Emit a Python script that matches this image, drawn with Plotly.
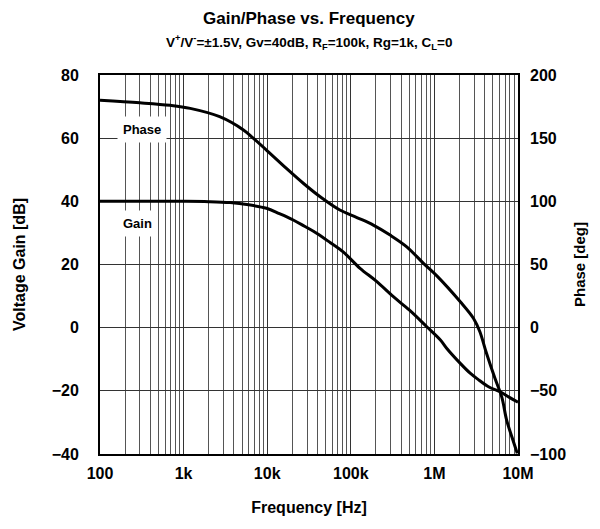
import plotly.graph_objects as go

# ---- data ----
freq_gain = [100, 300, 1000, 2000, 3600, 6000, 9800, 14000, 20500, 28000, 39000, 57000,
             81000, 129000, 200000, 323000, 500000, 810000, 1180000, 1400000, 2040000,
             2700000, 3300000, 4500000, 6100000, 7800000, 10000000]
gain_db = [40, 40, 40, 39.9, 39.6, 38.9, 37.8, 36.1, 34.1, 32.1, 29.9, 26.9,
           24.0, 18.8, 14.8, 9.8, 5.6, 0.3, -3.9, -6.5, -11.3,
           -14.5, -16.3, -18.8, -20.3, -22.0, -23.6]

freq_phase = [100, 300, 690, 1200, 2700, 5200, 6800, 10800, 17000, 27000, 43000,
              74000, 120000, 186000, 295000, 467000, 740000, 1070000, 2040000,
              2940000, 3500000, 4200000, 5300000, 6400000, 7300000, 8500000, 9800000]
phase_deg = [180, 178, 176, 173.6, 167, 156.5, 150, 138, 126, 114.3, 103.6,
             93.1, 87, 81.2, 73.3, 64, 50.9, 41, 20.5,
             7.3, -3.2, -20.3, -40.1, -55, -73, -87, -99.5]

x_tickvals = [100, 1e3, 1e4, 1e5, 1e6, 1e7]
x_ticktext = ["100", "1k", "10k", "100k", "1M", "10M"]

FONT = "Liberation Sans, Arial, sans-serif"
GRID = "#333333"

fig = go.Figure()
fig.add_trace(go.Scatter(x=freq_gain, y=gain_db, mode="lines", name="Gain",
                         line=dict(color="black", width=3, shape="spline", smoothing=1.0),
                         showlegend=False))
fig.add_trace(go.Scatter(x=freq_phase, y=phase_deg, mode="lines", name="Phase",
                         yaxis="y2",
                         line=dict(color="black", width=3, shape="spline", smoothing=1.0),
                         showlegend=False))

fig.update_layout(
    width=600, height=529,
    margin=dict(l=100, r=82, t=75, b=75),
    paper_bgcolor="white", plot_bgcolor="white",
    font=dict(family=FONT, color="black"),
    xaxis=dict(
        type="log", range=[2, 7], automargin=False,
        tickvals=x_tickvals, ticktext=x_ticktext,
        tickfont=dict(size=16, family=FONT, color="black", weight="bold"),
        showgrid=True, gridcolor=GRID, gridwidth=1,
        minor=dict(dtick="D1", showgrid=True, gridcolor="#555555", gridwidth=1, ticks=""),
        showline=True, linecolor="black", linewidth=2, mirror=True,
        ticks="", ticklabelstandoff=4,
        title=dict(text="<b>Frequency [Hz]</b>", font=dict(size=16, family=FONT), standoff=21),
        zeroline=False,
    ),
    yaxis=dict(
        range=[-40, 80], dtick=20, tick0=-40, automargin=False,
        tickfont=dict(size=16, family=FONT, color="black", weight="bold"),
        showgrid=True, gridcolor=GRID, gridwidth=1,
        showline=True, linecolor="black", linewidth=2, mirror=True,
        ticks="", ticklabelstandoff=16, zeroline=False,
        title=dict(text="<b>Voltage Gain [dB]</b>", font=dict(size=16, family=FONT), standoff=22),
    ),
    yaxis2=dict(
        range=[-100, 200], dtick=50, tick0=-100, automargin=False,
        overlaying="y", side="right",
        tickfont=dict(size=16, family=FONT, color="black", weight="bold"),
        showgrid=False, showline=False, ticks="", ticklabelstandoff=11, zeroline=False,
        title=dict(text="<b>Phase [deg]</b>", font=dict(size=15, family=FONT), standoff=9),
    ),
    annotations=[
        dict(text="<b>Gain/Phase vs. Frequency</b>", xref="paper", yref="paper",
             x=0.5, y=1.150, xanchor="center", yanchor="middle", showarrow=False,
             font=dict(size=17, family=FONT, color="black")),
        dict(text="<b>V<sup>+</sup>/V<sup>-</sup>=±1.5V, Gv=40dB, R<sub>F</sub>=100k, "
                  "Rg=1k, C<sub>L</sub>=0</b>", xref="paper", yref="paper",
             x=0.5, y=1.087, xanchor="center", yanchor="middle", showarrow=False,
             font=dict(size=13.5, family=FONT, color="black")),
        dict(text="<b>Phase</b>", xref="paper", yref="paper", x=0.10, y=0.855,
             xanchor="center", yanchor="middle",
             showarrow=False, bgcolor="white", borderpad=5,
             font=dict(size=13, family=FONT, color="black")),
        dict(text="<b>Gain</b>", xref="paper", yref="paper", x=0.089, y=0.609,
             xanchor="center", yanchor="middle",
             showarrow=False, bgcolor="white", borderpad=5,
             font=dict(size=13, family=FONT, color="black")),
    ],
)

fig.write_html("out.html")
